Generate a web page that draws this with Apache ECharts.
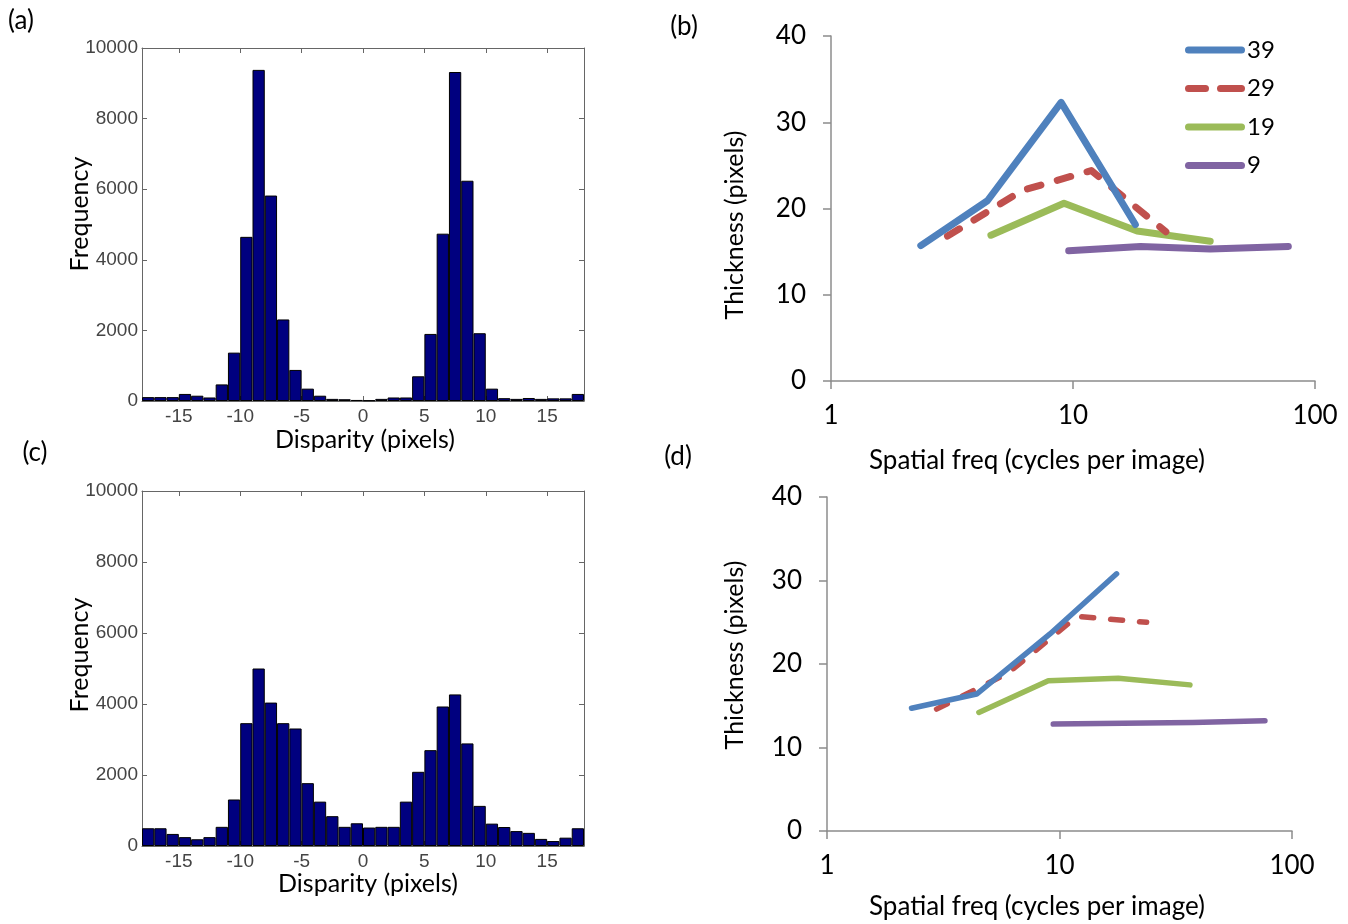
<!DOCTYPE html>
<html>
<head>
<meta charset="utf-8">
<script src="https://cdn.jsdelivr.net/npm/echarts@6/dist/echarts.min.js"></script>
<style>
  html, body { margin: 0; padding: 0; background: #fff; }
  #chart { width: 1348px; height: 924px; }
</style>
</head>
<body>
<div id="chart"></div>
<script>
// ---------- Data ----------
const binCenters = [-17.5,-16.5,-15.5,-14.5,-13.5,-12.5,-11.5,-10.5,-9.5,-8.5,-7.5,-6.5,-5.5,-4.5,-3.5,-2.5,-1.5,-0.5,
                    0.5,1.5,2.5,3.5,4.5,5.5,6.5,7.5,8.5,9.5,10.5,11.5,12.5,13.5,14.5,15.5,16.5,17.5];
const histA = [110,110,110,200,150,100,470,1370,4650,9380,5820,2310,880,350,150,60,50,30,
               20,60,100,100,700,1900,4740,9320,6240,1920,350,80,60,85,60,75,75,200];
const histC = [500,500,340,250,190,250,540,1310,3460,5000,4040,3460,3310,1770,1250,840,540,640,
               520,540,540,1250,2090,2700,3930,4270,2890,1130,630,535,420,370,200,140,235,500];
const dispTicks = [-15,-10,-5,0,5,10,15];

const seriesNames = ['39','29','19','9'];
// panel (b)
const bX39 = [2.35, 4.43, 8.93, 18.1];   const bY39 = [15.7, 20.9, 32.3, 18.15];
const bX29 = [3.03, 6.18, 11.9, 24.2];   const bY29 = [16.8, 22.1, 24.4, 17.3];
const bX19 = [4.58, 9.18, 18.4, 36.9];   const bY19 = [16.9, 20.6, 17.4, 16.2];
const bX9  = [9.6, 19.0, 36.9, 77.6];    const bY9  = [15.1, 15.6, 15.3, 15.6];
// panel (d)
const dX39 = [2.31, 4.4, 9.1, 17.6];     const dY39 = [14.7, 16.4, 23.6, 30.8];
const dX29 = [2.96, 6.0, 11.9, 23.7];    const dY29 = [14.6, 18.9, 25.7, 25.0];
const dX19 = [4.5, 8.95, 17.9, 36.4];    const dY19 = [14.2, 18.0, 18.3, 17.5];
const dX9  = [9.4, 18.8, 37.5, 76.5];    const dY9  = [12.8, 12.9, 13.0, 13.2];

// ---------- Helpers ----------
const zip = (xs, ys) => xs.map((x, i) => [x, ys[i]]);
const colors = { '39': '#4F81BD', '29': '#C0504D', '19': '#9BBB59', '9': '#8064A2' };
const calFont = 'Lato, "Open Sans", sans-serif';
const matFont = '"Liberation Sans Narrow", "Liberation Sans", Arial, sans-serif';
const histAxisColor = '#666';

function histXAxis(grid, top) {
  return {
    gridIndex: grid, type: 'value', min: -18, max: 18,
    position: top ? 'top' : 'bottom',
    axisLine: { show: true, onZero: false, lineStyle: { color: histAxisColor, width: 1 } },
    axisTick: { show: true, inside: true, length: 5, customValues: dispTicks, lineStyle: { color: histAxisColor } },
    axisLabel: { show: !top, customValues: dispTicks, margin: 6, fontFamily: matFont, fontSize: 19, color: '#444' },
    splitLine: { show: false }
  };
}
function histYAxis(grid, right) {
  return {
    gridIndex: grid, type: 'value', min: 0, max: 10000, interval: 2000,
    position: right ? 'right' : 'left',
    axisLine: { show: true, onZero: false, lineStyle: { color: histAxisColor, width: 1 } },
    axisTick: { show: true, inside: true, length: 5, lineStyle: { color: histAxisColor } },
    axisLabel: { show: !right, margin: 4, fontFamily: matFont, fontSize: 19, color: '#444',
                 formatter: v => String(v) },
    splitLine: { show: false }
  };
}
function logXAxis(grid) {
  return {
    gridIndex: grid, type: 'log', logBase: 10, min: 1, max: 100,
    axisLine: { show: true, onZero: false, lineStyle: { color: '#8c8c8c', width: 1.5 } },
    axisTick: { show: true, length: 8, lineStyle: { color: '#8c8c8c', width: 1.5 } },
    axisLabel: { margin: 22, fontFamily: calFont, fontSize: 26, color: '#000' },
    splitLine: { show: false }, minorTick: { show: false }
  };
}
function thickYAxis(grid) {
  return {
    gridIndex: grid, type: 'value', min: 0, max: 40, interval: 10,
    axisLine: { show: true, onZero: false, lineStyle: { color: '#8c8c8c', width: 1.5 } },
    axisTick: { show: true, length: 8, lineStyle: { color: '#8c8c8c', width: 1.5 } },
    axisLabel: { margin: 25, fontFamily: calFont, fontSize: 26, color: '#000' },
    splitLine: { show: false }
  };
}
function lineSeries(name, xs, ys, xi, yi, w, dashed) {
  return {
    type: 'line', name: name, xAxisIndex: xi, yAxisIndex: yi,
    data: zip(xs, ys), symbol: 'none', showSymbol: false, smooth: false,
    lineStyle: {
      color: colors[name], width: w, cap: 'round', join: 'round',
      type: dashed ? [dashed[0], dashed[1]] : 'solid'
    },
    itemStyle: { color: colors[name] },
    z: 10 - seriesNames.indexOf(name)
  };
}
function titleText(text, x, y, size, vertical) {
  return {
    type: 'text', x: x, y: y, rotation: vertical ? Math.PI / 2 : 0,
    style: { text: text, font: size + 'px ' + calFont, fill: '#000', align: 'center', verticalAlign: 'middle' }
  };
}
const solidIcon = 'path://M3.5,0H56.5A3.5,3.5,0,0,1,56.5,7H3.5A3.5,3.5,0,0,1,3.5,0Z';
const dashIcon = 'path://M3.5,0H20.5A3.5,3.5,0,0,1,20.5,7H3.5A3.5,3.5,0,0,1,3.5,0Z' +
                 'M35.5,0H56.5A3.5,3.5,0,0,1,56.5,7H35.5A3.5,3.5,0,0,1,35.5,0Z';

const chart = echarts.init(document.getElementById('chart'), null, { renderer: 'canvas' });
const option = {
  animation: false,
  backgroundColor: '#fff',
  grid: [
    { left: 142, top: 48, width: 442, height: 353 },
    { left: 831, top: 36, width: 484, height: 345 },
    { left: 142, top: 491, width: 442, height: 355 },
    { left: 827, top: 497, width: 465, height: 334 }
  ],
  xAxis: [
    histXAxis(0, false), histXAxis(0, true),
    logXAxis(1),
    histXAxis(2, false), histXAxis(2, true),
    logXAxis(3)
  ],
  yAxis: [
    histYAxis(0, false), histYAxis(0, true),
    thickYAxis(1),
    histYAxis(2, false), histYAxis(2, true),
    thickYAxis(3)
  ],
  legend: {
    data: seriesNames.map(n => ({ name: n, icon: n === '29' ? dashIcon : solidIcon })),
    orient: 'vertical', left: 1185, top: 38, padding: 0,
    itemWidth: 60, itemHeight: 7, itemGap: 14.5,
    textStyle: { fontFamily: calFont, fontSize: 24, color: '#000', padding: [0, 0, 0, -3] }
  },
  graphic: [
    titleText('(a)', 21, 21, 26, false),
    titleText('(b)', 684, 27, 26, false),
    titleText('(c)', 35, 453, 26, false),
    titleText('(d)', 678, 457, 26, false),
    titleText('Frequency', 80, 214, 25, true),
    titleText('Frequency', 80, 655, 25, true),
    titleText('Disparity (pixels)', 365, 440, 25, false),
    titleText('Disparity (pixels)', 368, 884, 25, false),
    titleText('Thickness (pixels)', 735, 225, 25, true),
    titleText('Thickness (pixels)', 735, 655, 25, true),
    titleText('Spatial freq (cycles per image)', 1037, 461, 26, false),
    titleText('Spatial freq (cycles per image)', 1037, 907, 26, false)
  ],
  series: [
    { type: 'bar', xAxisIndex: 0, yAxisIndex: 0, data: zip(binCenters, histA), barWidth: '100%',
      itemStyle: { color: '#00007F', borderColor: '#000', borderWidth: 1 } },
    { type: 'bar', xAxisIndex: 3, yAxisIndex: 3, data: zip(binCenters, histC), barWidth: '100%',
      itemStyle: { color: '#00007F', borderColor: '#000', borderWidth: 1 } },
    lineSeries('39', bX39, bY39, 2, 2, 7, null),
    lineSeries('29', bX29, bY29, 2, 2, 7, [14, 17]),
    lineSeries('19', bX19, bY19, 2, 2, 7, null),
    lineSeries('9',  bX9,  bY9,  2, 2, 7, null),
    lineSeries('39', dX39, dY39, 5, 5, 5.5, null),
    lineSeries('29', dX29, dY29, 5, 5, 5.5, [12, 17]),
    lineSeries('19', dX19, dY19, 5, 5, 5.5, null),
    lineSeries('9',  dX9,  dY9,  5, 5, 5.5, null)
  ]
};
chart.setOption(option);
</script>
</body>
</html>
